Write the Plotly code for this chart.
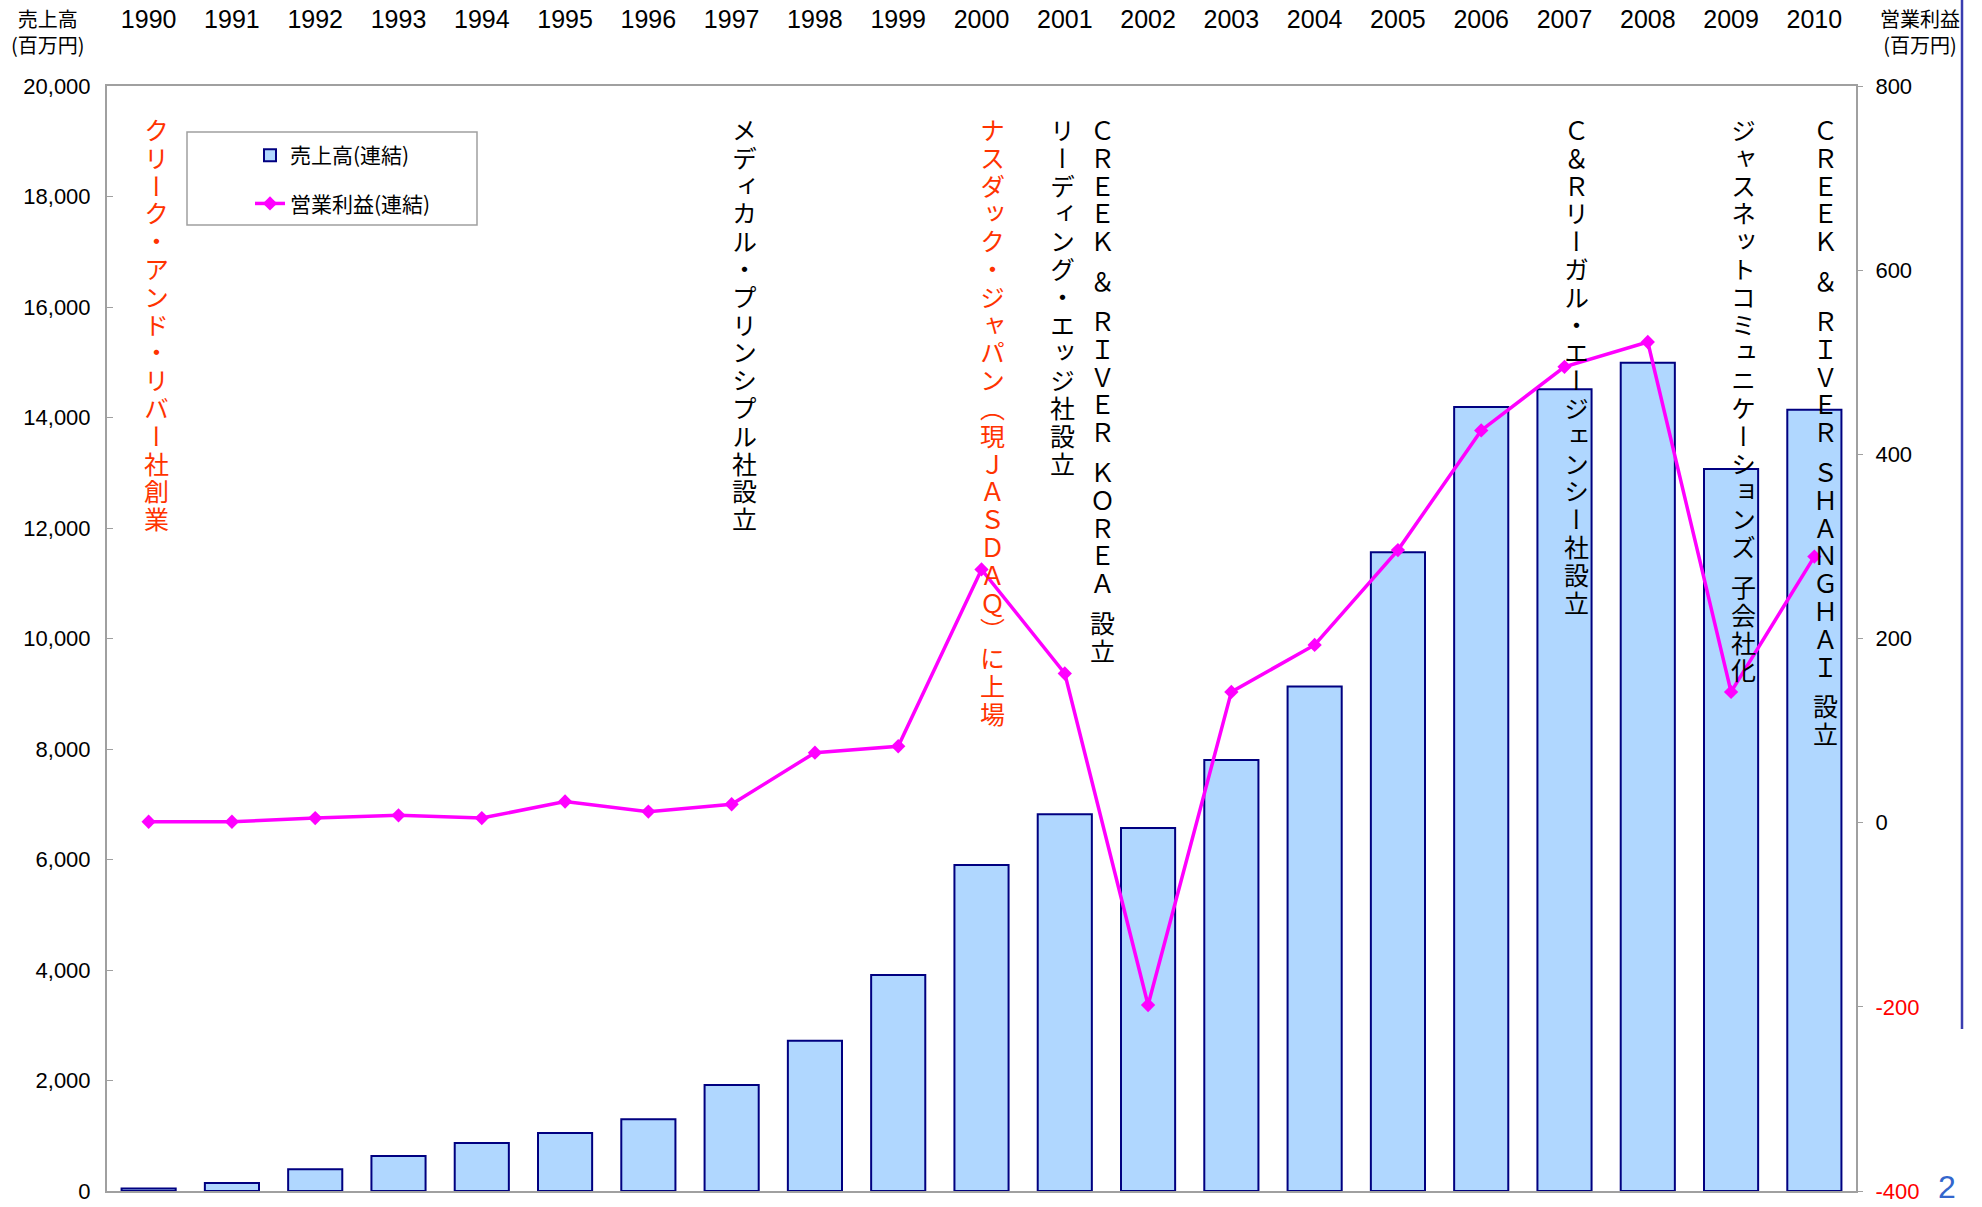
import plotly.graph_objects as go

# ---------------- data ----------------
years = [str(y) for y in range(1990, 2011)]
sales = [45, 145, 395, 635, 870, 1050, 1300, 1920, 2720, 3910, 5900,
         6820, 6570, 7800, 9130, 11560, 14190, 14510, 14990, 13070, 14140]
profit = [1, 1, 5, 8, 5, 23, 12, 20, 76, 83, 275,
          162, -198, 142, 193, 296, 426, 495, 522, 142, 289]

sales_ticks = list(range(0, 20001, 2000))
profit_ticks = list(range(-400, 801, 200))

sales_name = "売上高(連結)"
profit_name = "営業利益(連結)"
left_title = "売上高<br>(百万円)"
right_title = "営業利益<br>(百万円)"
page_number = "2"

event_years = ["1990", "1997", "2000", "2001", "2001", "2007", "2009", "2010"]
event_texts = [
    "クリーク・アンド・リバー社創業",
    "メディカル・プリンシプル社設立",
    "ナスダック・ジャパン（現ＪＡＳＤＡＱ）に上場",
    "リーディング・エッジ社設立",
    "ＣＲＥＥＫ ＆ ＲＩＶＥＲ ＫＯＲＥＡ 設立",
    "Ｃ＆Ｒリーガル・エージェンシー社設立",
    "ジャスネットコミュニケーションズ 子会社化",
    "ＣＲＥＥＫ ＆ ＲＩＶＥＲ ＳＨＡＮＧＨＡＩ 設立",
]
event_highlight = [True, False, True, False, False, False, False, False]

# ---------------- style / layout ----------------
W, H = 1982, 1207
L, R, T, B = 107, 126, 86, 16
PW, PH = W - L - R, H - T - B

def px_x(x):
    return (x - L) / PW

def px_y(y):
    return (H - B - y) / PH

RED = "#FF3300"
GRAY = "#A0A0A0"
CJK = "Noto Sans CJK JP"
LAT = "Liberation Sans, Noto Sans CJK JP"
VFONT = "'Liberation Serif','Noto Sans CJK JP'"

event_xshift = [8, 13, 11, -2, 38, 12, 12, 11]
GLYPH = 25            # glyph size of the vertical captions
PITCH = 27.8          # vertical advance per character
BASE = PITCH / 1.3    # plotly line spacing is 1.3 em of the base font
SPACE_PITCH = 12      # extra gap for a half-width space
TOP_OFFSET = 35       # first glyph top, px below plot top
BOX_ADJ = 5           # box top to glyph top

fig = go.Figure()

fig.add_trace(go.Bar(
    x=years, y=sales, name=sales_name,
    marker=dict(color="#B0D7FF", line=dict(color="#000080", width=2)),
    legendgroup="a", xaxis="x", yaxis="y",
))
fig.add_trace(go.Scatter(
    x=years, y=profit, name=profit_name, mode="lines+markers",
    line=dict(color="#FF00FF", width=3.5),
    marker=dict(symbol="diamond", size=11, color="#FF00FF"),
    legendgroup="b", xaxis="x", yaxis="y2",
))


def vertical(seg):
    return "<br>".join(
        f"<span style=\"font-family:{VFONT};font-size:{GLYPH}px;font-feature-settings:'vert' 1\">{ch}</span>"
        for ch in seg)


annotations = []
for yr, txt, hl, xs in zip(event_years, event_texts, event_highlight, event_xshift):
    color = RED if hl else "#000000"
    xi = years.index(yr)
    pos = TOP_OFFSET
    for seg in txt.split(" "):
        annotations.append(dict(
            x=xi, xref="x", y=1, yref="paper", xanchor="center", yanchor="top",
            xshift=xs, yshift=-(pos - BOX_ADJ), text=vertical(seg), showarrow=False,
            align="center", font=dict(family=CJK, size=BASE, color=color),
        ))
        pos += len(seg) * PITCH + SPACE_PITCH

annotations.append(dict(x=px_x(48), y=px_y(32), xref="paper", yref="paper",
                        text=left_title, showarrow=False, xanchor="center", yanchor="middle",
                        font=dict(family=CJK, size=20, color="#000000")))
annotations.append(dict(x=px_x(1920), y=px_y(32), xref="paper", yref="paper",
                        text=right_title, showarrow=False, xanchor="center", yanchor="middle",
                        font=dict(family=CJK, size=20, color="#000000")))
annotations.append(dict(x=px_x(1947), y=px_y(1207), xref="paper", yref="paper",
                        text=page_number, showarrow=False, xanchor="center", yanchor="bottom",
                        font=dict(family=LAT, size=32, color="#3366CC")))

shapes = [
    dict(type="rect", xref="paper", yref="paper",
         x0=px_x(187), x1=px_x(477), y0=px_y(132), y1=px_y(225),
         line=dict(color=GRAY, width=1.5), fillcolor="rgba(0,0,0,0)"),
    dict(type="line", xref="paper", yref="paper",
         x0=px_x(1962), x1=px_x(1962), y0=px_y(0), y1=px_y(1029),
         line=dict(color="#3A3DB0", width=2.5)),
]

neg_color = "red"
profit_ticktext = [
    (f"<span style='color:{neg_color}'>{v}</span>" if v < 0 else f"{v}") for v in profit_ticks
]

fig.update_layout(
    width=W, height=H,
    margin=dict(l=L, r=R, t=T, b=B, autoexpand=False),
    paper_bgcolor="white", plot_bgcolor="white",
    font=dict(family=LAT, color="#000000"),
    bargap=0.35,
    showlegend=True,
    legend=dict(x=px_x(250), y=px_y(135), xanchor="left", yanchor="top",
                bgcolor="rgba(0,0,0,0)", borderwidth=0,
                font=dict(family=CJK, size=21, color="#000000"),
                traceorder="grouped", tracegroupgap=18),
    xaxis=dict(type="category", side="top", showline=True, mirror=True, automargin=False,
               linecolor=GRAY, linewidth=2, ticks="", showgrid=False,
               tickfont=dict(family=LAT, size=25, color="#000000"),
               ticklabelstandoff=46, range=[-0.5, len(years) - 0.5]),
    xaxis2=dict(overlaying="x", side="bottom", anchor="y", automargin=False,
                range=[-0.5, len(years) - 0.5],
                tickmode="array", tickvals=[i + 0.5 for i in range(len(years) - 1)],
                ticks="inside", ticklen=7, tickcolor=GRAY, tickwidth=1.5,
                showticklabels=False, showgrid=False, zeroline=False, showline=False),
    yaxis=dict(range=[0, 20000], tickmode="array", tickvals=sales_ticks, automargin=False,
               tickformat=",", showline=True, mirror=True, linecolor=GRAY, linewidth=2,
               ticks="inside", ticklen=6, tickcolor=GRAY, showgrid=False, zeroline=False,
               tickfont=dict(family=LAT, size=22, color="#000000"), ticklabelstandoff=10),
    yaxis2=dict(overlaying="y", side="right", anchor="x", range=[-400, 800], automargin=False,
                tickmode="array", tickvals=profit_ticks, ticktext=profit_ticktext,
                ticks="outside", ticklen=6, tickcolor=GRAY, showgrid=False,
                zeroline=False, showline=False,
                tickfont=dict(family=LAT, size=22, color="#000000"), ticklabelstandoff=8),
    annotations=annotations,
    shapes=shapes,
)

fig.write_html("out.html", config={"displayModeBar": False},
               post_script="document.body.style.margin='0';document.body.style.overflow='hidden';")
